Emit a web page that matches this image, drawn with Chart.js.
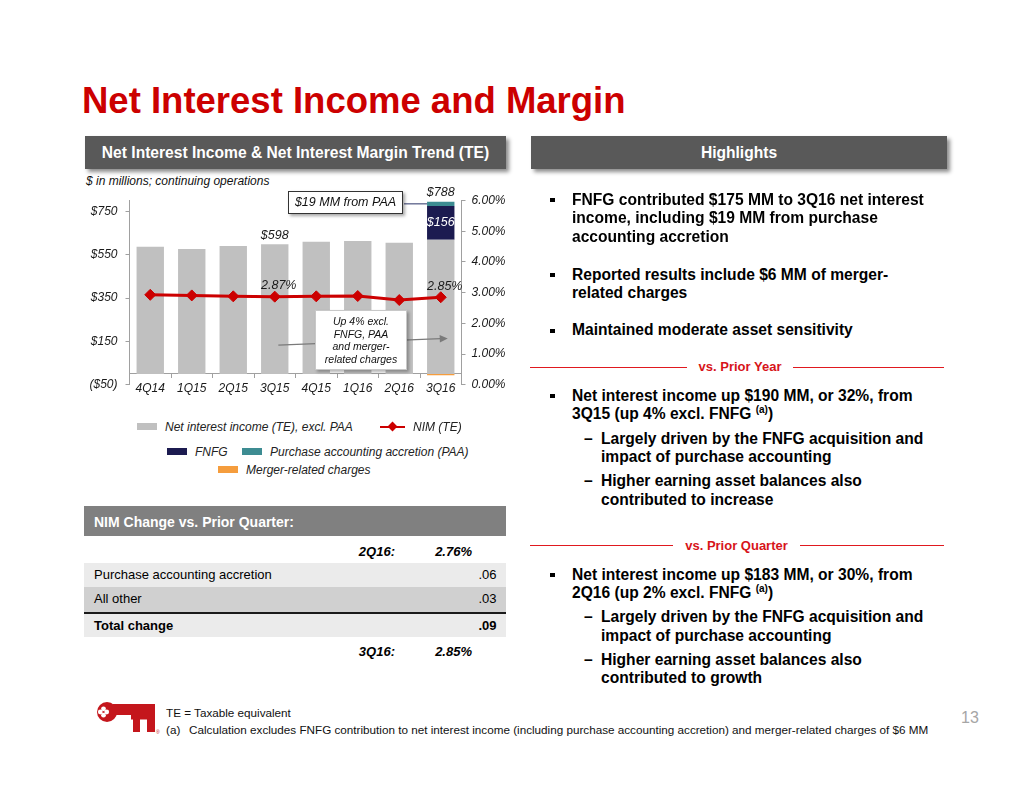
<!DOCTYPE html>
<html><head><meta charset="utf-8">
<script src="https://cdn.jsdelivr.net/npm/chart.js@4.4.1/dist/chart.umd.min.js"></script>
<style>
html,body{margin:0;padding:0;background:#fff;}
body{width:1034px;height:799px;position:relative;overflow:hidden;font-family:'Liberation Sans',Arial,Helvetica,sans-serif;color:#000;}
.a{position:absolute;white-space:nowrap;}
#title{left:82px;top:79.4px;font-size:36.5px;font-weight:bold;color:#cc0000;line-height:44px;}
.hdr{position:absolute;background:#595959;color:#fff;font-weight:bold;font-size:15.6px;text-align:center;line-height:33px;height:33px;top:136px;box-shadow:3px 3px 4px rgba(0,0,0,0.45);white-space:nowrap;}
.note{font-style:italic;font-size:12px;line-height:14px;color:#111;}
#chartWrap{position:absolute;left:60px;top:180px;width:470px;height:220px;}
.callout{position:absolute;background:#fff;text-align:center;font-style:italic;color:#111;box-sizing:border-box;}
.lg{position:absolute;font-style:italic;font-size:12px;line-height:14px;color:#222;white-space:nowrap;}
.lgbox{position:absolute;width:20px;height:7px;}
.bul{position:absolute;font-weight:bold;font-size:15.6px;line-height:18.7px;white-space:nowrap;color:#000;}
.sq{position:absolute;width:4.5px;height:4.5px;background:#000;}
.dash{position:absolute;font-weight:bold;font-size:15.6px;line-height:18.7px;}
sup.s{font-size:10px;position:relative;top:-6px;vertical-align:baseline;font-weight:bold;}
.rline{position:absolute;height:1.5px;background:#e0191f;}
.dtxt{position:absolute;font-weight:bold;font-size:13px;line-height:16px;color:#d7141a;white-space:nowrap;transform:translateX(-50%);}
.trow{position:absolute;left:84px;width:422px;font-size:13px;line-height:24px;}
.tl{position:absolute;left:10px;}
.tr{position:absolute;right:9.5px;}
.fn{position:absolute;font-size:11.7px;line-height:14px;color:#111;white-space:nowrap;}
</style>
</head>
<body>
<div id="title" class="a">Net Interest Income and Margin</div>
<div class="hdr" style="left:85px;width:421px;">Net Interest Income &amp; Net Interest Margin Trend (TE)</div>
<div class="hdr" style="left:531px;width:416px;">Highlights</div>
<div class="a note" style="left:86px;top:174px;">$ in millions; continuing operations</div>

<div id="chartWrap"><canvas id="c" width="470" height="220" style="width:470px;height:220px;"></canvas></div>

<div class="callout" style="left:288px;top:191px;width:115px;height:23px;line-height:21px;font-size:12.5px;border:1px solid #333;box-shadow:2px 2px 3px rgba(0,0,0,0.35);">$19 MM from PAA</div>
<div class="callout" style="left:315px;top:310px;width:92px;height:60px;padding-top:4px;font-size:10.5px;line-height:12.7px;border:1px solid #c8c8c8;box-shadow:2px 2px 3px rgba(0,0,0,0.3);">Up 4% excl.<br>FNFG, PAA<br>and merger-<br>related charges</div>

<div id="legend"></div>

<!-- NIM table -->
<div class="a" style="left:84px;top:506px;width:422px;height:30px;background:#808080;"></div>
<div class="a" style="left:94px;top:513.5px;font-weight:bold;font-size:14px;line-height:16px;color:#fff;">NIM Change vs. Prior Quarter:</div>
<div class="trow" style="top:540px;font-weight:bold;font-style:italic;"><span class="a" style="right:111px;">2Q16:</span><span class="a" style="right:34px;">2.76%</span></div>
<div class="trow" style="top:563px;height:24.3px;background:#ebebeb;"><span class="tl">Purchase accounting accretion</span><span class="tr">.06</span></div>
<div class="trow" style="top:587.3px;height:24.7px;background:#d0d0d0;"><span class="tl">All other</span><span class="tr">.03</span></div>
<div class="a" style="left:84px;top:612px;width:422px;height:1.6px;background:#1a1a1a;"></div>
<div class="trow" style="top:613.6px;height:23.7px;background:#ebebeb;font-weight:bold;"><span class="tl">Total change</span><span class="tr">.09</span></div>
<div class="trow" style="top:640px;font-weight:bold;font-style:italic;"><span class="a" style="right:111px;">3Q16:</span><span class="a" style="right:34px;">2.85%</span></div>

<!-- Highlights -->
<div class="sq" style="left:550px;top:197.8px;"></div>
<div class="bul" style="left:572px;top:190.6px;">FNFG contributed $175 MM to 3Q16 net interest<br>income, including $19 MM from purchase<br>accounting accretion</div>
<div class="sq" style="left:550px;top:272.8px;"></div>
<div class="bul" style="left:572px;top:265.6px;">Reported results include $6 MM of merger-<br>related charges</div>
<div class="sq" style="left:550px;top:328.5px;"></div>
<div class="bul" style="left:572px;top:321.3px;">Maintained moderate asset sensitivity</div>

<div class="rline" style="left:530px;width:157px;top:366.5px;"></div>
<div class="rline" style="left:793px;width:151px;top:366.5px;"></div>
<div class="dtxt" style="left:740px;top:359.3px;">vs. Prior Year</div>

<div class="sq" style="left:550px;top:393.8px;"></div>
<div class="bul" style="left:572px;top:386.6px;">Net interest income up $190 MM, or 32%, from<br>3Q15 (up 4% excl. FNFG <sup class="s">(a)</sup>)</div>
<div class="dash" style="left:584px;top:429.6px;">–</div>
<div class="bul" style="left:601px;top:429.6px;">Largely driven by the FNFG acquisition and<br>impact of purchase accounting</div>
<div class="dash" style="left:584px;top:472.3px;">–</div>
<div class="bul" style="left:601px;top:472.3px;">Higher earning asset balances also<br>contributed to increase</div>

<div class="rline" style="left:530px;width:143px;top:544.8px;"></div>
<div class="rline" style="left:800px;width:144px;top:544.8px;"></div>
<div class="dtxt" style="left:736.5px;top:537.7px;">vs. Prior Quarter</div>

<div class="sq" style="left:550px;top:572.8px;"></div>
<div class="bul" style="left:572px;top:565.6px;">Net interest income up $183 MM, or 30%, from<br>2Q16 (up 2% excl. FNFG <sup class="s">(a)</sup>)</div>
<div class="dash" style="left:584px;top:608px;">–</div>
<div class="bul" style="left:601px;top:608px;">Largely driven by the FNFG acquisition and<br>impact of purchase accounting</div>
<div class="dash" style="left:584px;top:650.6px;">–</div>
<div class="bul" style="left:601px;top:650.6px;">Higher earning asset balances also<br>contributed to growth</div>

<!-- Footer -->
<svg class="a" style="left:96px;top:699px;" width="72" height="42" viewBox="0 0 72 42">
  <g fill="#c4161c">
    <circle cx="11" cy="13" r="10"/>
    <rect x="17" y="5" width="42" height="11"/>
    <rect x="35" y="16" width="24" height="4.5"/>
    <rect x="37" y="16" width="7" height="17"/>
    <rect x="51" y="16" width="8" height="17"/>
  </g>
  <g fill="#fff">
    <circle cx="7.5" cy="9.8" r="2.4"/><circle cx="7.5" cy="16.2" r="2.4"/>
    <circle cx="4.3" cy="13" r="2.4"/><circle cx="10.7" cy="13" r="2.4"/>
  </g>
  <text x="60" y="35" font-size="5" fill="#c4161c" font-family="Liberation Sans, Arial">®</text>
</svg>
<div class="fn" style="left:166px;top:706px;">TE = Taxable equivalent</div>
<div class="fn" style="left:166px;top:722.5px;">(a)</div>
<div class="fn" style="left:189px;top:722.5px;">Calculation excludes FNFG contribution to net interest income (including purchase accounting accretion) and merger-related charges of $6 MM</div>
<div class="a" style="left:961px;top:709px;font-size:16px;line-height:18px;color:#a6a6a6;">13</div>

<script>
// ---- data ----
const categories = ['4Q14', '1Q15', '2Q15', '3Q15', '4Q15', '1Q16', '2Q16', '3Q16'];
const niiExclPaa = [587, 576, 590, 598, 610, 613, 605, 619];
const fnfgContribution = [null, null, null, null, null, null, null, 156];
const purchaseAccountingAccretion = [null, null, null, null, null, null, null, 19];
const mergerRelatedCharges = [null, null, null, null, null, null, null, -6];
const nimTe = [2.93, 2.91, 2.88, 2.87, 2.88, 2.89, 2.76, 2.85];
const leftAxisTicks = [-50, 150, 350, 550, 750];
const rightAxisTicks = [0, 1, 2, 3, 4, 5, 6];
const labeledQuarters = ['3Q15', '3Q16'];

const FONT = "'Liberation Sans', Arial, sans-serif";
Chart.defaults.font.family = FONT;
Chart.defaults.color = '#1a1a1a';

const COLORS = {nii: '#c0c0c0', fnfg: '#1c1b50', paa: '#3d8c92', merger: '#f59d3d', nim: '#cc0000'};

const annotate = {
  id: 'annotate',
  afterDatasetsDraw(chart) {
    const {ctx, scales: {x, y, y1}} = chart;
    ctx.save();
    // arrow from 3Q15 to 3Q16 (annotation)
    const ax0 = x.getPixelForValue(3) + 3.6, ay0 = y.getPixelForValue(133);
    const ax1 = x.getPixelForValue(7) + 7, ay1 = y.getPixelForValue(164);
    const ang = Math.atan2(ay1 - ay0, ax1 - ax0);
    ctx.strokeStyle = '#7a7a7a'; ctx.fillStyle = '#7a7a7a'; ctx.lineWidth = 1.3;
    ctx.beginPath(); ctx.moveTo(ax0, ay0);
    ctx.lineTo(ax1 - 7 * Math.cos(ang), ay1 - 7 * Math.sin(ang)); ctx.stroke();
    ctx.beginPath();
    ctx.moveTo(ax1, ay1);
    ctx.lineTo(ax1 - 8 * Math.cos(ang) + 3.8 * Math.sin(ang), ay1 - 8 * Math.sin(ang) - 3.8 * Math.cos(ang));
    ctx.lineTo(ax1 - 8 * Math.cos(ang) - 3.8 * Math.sin(ang), ay1 - 8 * Math.sin(ang) + 3.8 * Math.cos(ang));
    ctx.closePath(); ctx.fill();

    ctx.font = 'italic 12.5px ' + FONT;
    ctx.textAlign = 'center'; ctx.textBaseline = 'middle';
    labeledQuarters.forEach(q => {
      const i = categories.indexOf(q);
      const parts = [niiExclPaa[i], fnfgContribution[i], purchaseAccountingAccretion[i], mergerRelatedCharges[i]].map(v => v || 0);
      const posTop = parts.filter(v => v > 0).reduce((a, b) => a + b, 0);
      const net = parts.reduce((a, b) => a + b, 0);
      const px = x.getPixelForValue(i);
      ctx.fillStyle = '#1a1a1a';
      ctx.fillText('$' + net, px, y.getPixelForValue(posTop) - 9);
      if (fnfgContribution[i]) {
        ctx.fillStyle = '#ffffff';
        ctx.fillText('$' + fnfgContribution[i], px, y.getPixelForValue(niiExclPaa[i] + fnfgContribution[i] / 2));
      }
      if (purchaseAccountingAccretion[i]) {
        const bw = chart.getDatasetMeta(1).data[i].width;
        const ly = y.getPixelForValue(niiExclPaa[i] + (fnfgContribution[i] || 0) + purchaseAccountingAccretion[i] / 2);
        ctx.strokeStyle = '#2a3366'; ctx.lineWidth = 1;
        ctx.beginPath(); ctx.moveTo(px - bw / 2 - 23, ly); ctx.lineTo(px - bw / 2, ly); ctx.stroke();
      }
      ctx.fillStyle = '#1a1a1a';
      ctx.fillText(nimTe[i].toFixed(2) + '%', px + 4, y1.getPixelForValue(nimTe[i]) - 11);
    });
    ctx.restore();
  }
};

const axisColor = '#a0a0a0';
const tickFont = {family: FONT, size: 12, style: 'italic'};

const chart = new Chart(document.getElementById('c'), {
  type: 'bar',
  data: {
    labels: categories,
    datasets: [
      {type: 'line', label: 'NIM (TE)', data: nimTe, yAxisID: 'y1', borderColor: COLORS.nim, backgroundColor: COLORS.nim,
        borderWidth: 3, pointStyle: 'rectRot', pointRadius: 5.5, pointBackgroundColor: COLORS.nim, pointBorderColor: COLORS.nim,
        pointBorderWidth: 1, tension: 0, order: 0},
      {label: 'Net interest income (TE), excl. PAA', data: niiExclPaa, backgroundColor: COLORS.nii, yAxisID: 'y', order: 1},
      {label: 'FNFG', data: fnfgContribution, backgroundColor: COLORS.fnfg, yAxisID: 'y', order: 1},
      {label: 'Purchase accounting accretion (PAA)', data: purchaseAccountingAccretion, backgroundColor: COLORS.paa, yAxisID: 'y', order: 1},
      {label: 'Merger-related charges', data: mergerRelatedCharges, backgroundColor: COLORS.merger, yAxisID: 'y', order: 1}
    ]
  },
  options: {
    responsive: false, animation: false,
    layout: {padding: {top: 20.5, bottom: 12.7, left: 0, right: 0}},
    datasets: {bar: {barPercentage: 0.66, categoryPercentage: 1}},
    plugins: {legend: {display: false}, tooltip: {enabled: false}},
    scales: {
      x: {
        stacked: true, position: {y: 0},
        grid: {drawOnChartArea: false, drawTicks: true, tickLength: 4, offset: true, color: axisColor},
        border: {color: axisColor, width: 1},
        ticks: {font: tickFont, color: '#1a1a1a', padding: 3, maxRotation: 0}
      },
      y: {
        stacked: true, position: 'left', min: -50, max: 800,
        afterBuildTicks: s => { s.ticks = leftAxisTicks.map(v => ({value: v})); },
        afterFit: s => { s.width = 69.5; },
        grid: {drawOnChartArea: false, drawTicks: true, tickLength: 4, color: axisColor},
        border: {color: axisColor, width: 1},
        ticks: {font: tickFont, color: '#1a1a1a', padding: 8, callback: v => v < 0 ? '($' + (-v) + ')' : '$' + v}
      },
      y1: {
        position: 'right', min: 0, max: 6,
        afterBuildTicks: s => { s.ticks = rightAxisTicks.map(v => ({value: v})); },
        afterFit: s => { s.width = 68.5; },
        grid: {drawOnChartArea: false, drawTicks: true, tickLength: 4, color: axisColor},
        border: {color: axisColor, width: 1},
        ticks: {font: tickFont, color: '#1a1a1a', padding: 6, callback: v => Number(v).toFixed(2) + '%'}
      }
    }
  },
  plugins: [annotate]
});

// ---- HTML legend built from the chart's datasets ----
const legendSlots = [
  {label: 'Net interest income (TE), excl. PAA', left: 137, cy: 426.5},
  {label: 'NIM (TE)', left: 380, cy: 426.5},
  {label: 'FNFG', left: 167, cy: 451.5},
  {label: 'Purchase accounting accretion (PAA)', left: 242, cy: 451.5},
  {label: 'Merger-related charges', left: 218, cy: 469.5}
];
const lg = document.getElementById('legend');
legendSlots.forEach(slot => {
  const ds = chart.data.datasets.find(d => d.label === slot.label);
  if (ds.type === 'line') {
    const ln = document.createElement('div');
    ln.className = 'lgbox';
    Object.assign(ln.style, {left: slot.left + 'px', top: (slot.cy - 1) + 'px', width: '25px', height: '2px', background: ds.borderColor});
    lg.appendChild(ln);
    const d = document.createElement('div');
    d.className = 'lgbox';
    Object.assign(d.style, {left: (slot.left + 9) + 'px', top: (slot.cy - 3.5) + 'px', width: '7px', height: '7px', background: ds.borderColor, transform: 'rotate(45deg)'});
    lg.appendChild(d);
    const t = document.createElement('div');
    t.className = 'lg'; t.textContent = ds.label;
    Object.assign(t.style, {left: (slot.left + 33) + 'px', top: (slot.cy - 7) + 'px'});
    lg.appendChild(t);
  } else {
    const b = document.createElement('div');
    b.className = 'lgbox';
    Object.assign(b.style, {left: slot.left + 'px', top: (slot.cy - 3.5) + 'px', background: ds.backgroundColor});
    lg.appendChild(b);
    const t = document.createElement('div');
    t.className = 'lg'; t.textContent = ds.label;
    Object.assign(t.style, {left: (slot.left + 28) + 'px', top: (slot.cy - 7) + 'px'});
    lg.appendChild(t);
  }
});
</script>
</body></html>
